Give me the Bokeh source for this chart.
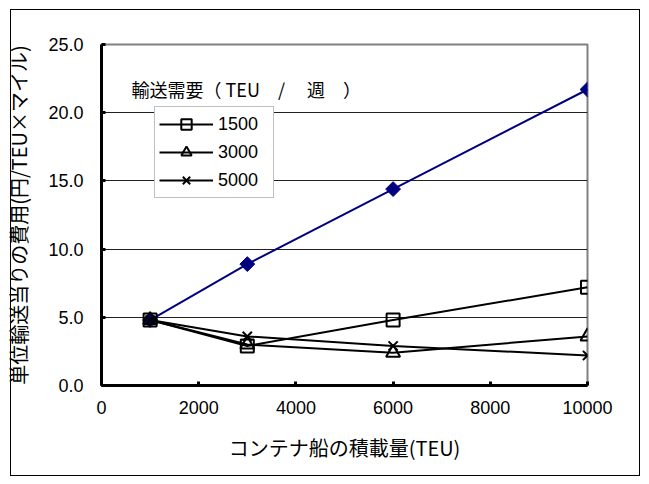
import math
from bokeh.plotting import figure
from bokeh.models import (Range1d, FixedTicker, Legend, LegendItem, Label,
                          InlineStyleSheet)
from bokeh.embed import file_html
from bokeh.resources import INLINE

# ---- data ----
ship_teu = [1000, 3000, 6000, 10000]
cost_top = [4.8, 8.9, 14.4, 21.7]
cost_1500 = [4.8, 2.9, 4.8, 7.2]
cost_3000 = [4.8, 3.0, 2.4, 3.6]
cost_5000 = [4.8, 3.6, 2.9, 2.2]
legend_labels = ["1500", "3000", "5000"]
x_ticks = [0, 2000, 4000, 6000, 8000, 10000]
y_ticks = [0, 5, 10, 15, 20, 25]
x_title = "コンテナ船の積載量(TEU)"
y_title = "単位輸送当りの費用(円/TEU×マイル)"
legend_title = "輸送需要（ TEU　/　 週　）"

W, H = 649, 484
L, R, T, B = 101, 587, 44, 385

p = figure(width=W, height=H, output_backend="svg", toolbar_location=None,
           x_range=Range1d(0, 10000), y_range=Range1d(0, 25),
           min_border_left=L, min_border_right=W - R,
           min_border_top=T, min_border_bottom=H - B)
p.background_fill_color = "white"
p.border_fill_color = "white"
p.outline_line_color = "#808080"
p.outline_line_width = 2

# grid
p.xgrid.visible = False
p.ygrid.ticker = FixedTicker(ticks=[5, 10, 15, 20])
p.ygrid.grid_line_color = "#202020"
p.ygrid.grid_line_width = 1

# axes
tick_font = "Liberation Sans"
for ax in (p.xaxis[0], p.yaxis[0]):
    ax.axis_line_width = 3
    ax.axis_line_color = "black"
    ax.major_tick_in = 4
    ax.major_tick_out = 0
    ax.major_tick_line_width = 3
    ax.major_tick_line_color = "black"
    ax.minor_tick_line_color = None
    ax.major_label_text_font = tick_font
    ax.major_label_text_font_size = "18px"
    ax.major_label_text_color = "black"
    ax.axis_label_text_font = "Noto Sans CJK JP"
    ax.axis_label_text_font_style = "normal"
    ax.axis_label_text_color = "black"

p.xaxis.axis_label_text_font_size = "20px"
p.yaxis.axis_label_text_font_size = "20px"
p.xaxis.ticker = FixedTicker(ticks=x_ticks)
p.yaxis.ticker = FixedTicker(ticks=y_ticks)
p.yaxis.major_label_overrides = {t: f"{t:.1f}" for t in y_ticks}
p.xaxis.major_label_standoff = 15
p.yaxis.major_label_standoff = 18
p.xaxis.axis_label = x_title
p.yaxis.axis_label = y_title
p.xaxis.axis_label_standoff = 16
p.yaxis.axis_label_standoff = 12

# blue series
p.line(ship_teu, cost_top, line_color="#000080", line_width=2)
p.scatter(ship_teu, cost_top, marker="square", size=10.5, angle=math.pi / 4,
          fill_color="#000080", line_color="#000080")

# black series
l1 = p.line(ship_teu, cost_1500, line_color="black", line_width=2)
m1 = p.scatter(ship_teu, cost_1500, marker="square", size=13,
               fill_alpha=0, line_color="black", line_width=2)
l2 = p.line(ship_teu, cost_3000, line_color="black", line_width=2)
m2 = p.scatter(ship_teu, cost_3000, marker="triangle", size=14,
               fill_alpha=0, line_color="black", line_width=2)
l3 = p.line(ship_teu, cost_5000, line_color="black", line_width=2)
m3 = p.scatter(ship_teu, cost_5000, marker="x", size=13,
               line_color="black", line_width=2)

legend = Legend(items=[
    LegendItem(label=legend_labels[0], renderers=[l1, m1]),
    LegendItem(label=legend_labels[1], renderers=[l2, m2]),
    LegendItem(label=legend_labels[2], renderers=[l3, m3]),
], location=(53, 187))
legend.glyph_width = 54
legend.glyph_height = 26
legend.spacing = 2
legend.padding = 4
legend.margin = 0
legend.label_standoff = 5
legend.label_width = 51
legend.label_text_font = tick_font
legend.label_text_font_size = "18px"
legend.label_text_color = "black"
legend.border_line_color = "#808080"
legend.border_line_width = 1
legend.background_fill_color = "white"
legend.background_fill_alpha = 1
p.add_layout(legend, "center")

title_lbl = Label(x=30, y=B - 88, x_units="screen", y_units="screen",
                  text=legend_title, text_font="Noto Sans CJK JP",
                  text_font_size="18px", text_baseline="middle",
                  text_color="black")
p.add_layout(title_lbl)

p.stylesheets = [InlineStyleSheet(css="""
:host { position: relative; }
:host::after {
  content: "";
  position: absolute;
  left: 10px; top: 9px;
  width: 630px; height: 467px;
  border: 1px solid black;
  pointer-events: none;
  box-sizing: border-box;
}
""")]

open("out.html", "w").write(file_html(p, INLINE))
